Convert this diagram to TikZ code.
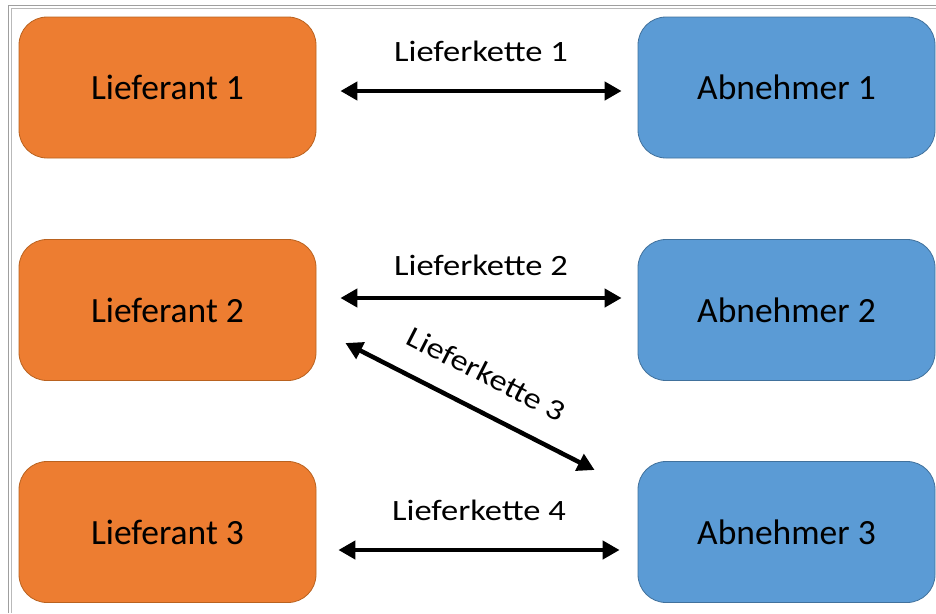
\documentclass[tikz,border=0pt]{standalone}
\usepackage{fontspec}
\setmainfont{Carlito}
\newfontfamily\kettefont[FakeStretch=1.17]{Carlito}
\usetikzlibrary{arrows.meta}

\definecolor{lieforange}{HTML}{ED7D31}
\definecolor{lieforangeline}{HTML}{B9621F}
\definecolor{abnblue}{HTML}{5B9BD5}
\definecolor{abnblueline}{HTML}{41719C}

\tikzset{
	partner/.style={rectangle, rounded corners=28pt, minimum width=297pt, minimum height=141pt,
		line width=0.8pt, inner sep=0pt, font=\fontsize{35.5}{42}\selectfont},
	lieferant/.style={partner, fill=lieforange, draw=lieforangeline},
	abnehmer/.style={partner, fill=abnblue, draw=abnblueline},
	chain/.style={line width=4.5pt, {Triangle[length=17pt,width=18pt]}-{Triangle[length=17pt,width=18pt]}},
	chainlabel/.style={inner sep=0pt, font=\kettefont\fontsize{29.5}{35}\selectfont}
}

\begin{document}
\begin{tikzpicture}[x=1pt,y=-1pt]

	\useasboundingbox (0,0) rectangle (936,613);

	\coordinate (L1) at (167.5, 87.5);
	\coordinate (L2) at (167.5, 310);
	\coordinate (L3) at (167.5, 532);
	\coordinate (A1) at (786.5, 87.5);
	\coordinate (A2) at (786.5, 310);
	\coordinate (A3) at (786.5, 532);

	% frame
	\draw[gray!75, line width=1pt] (8,613) -- (8,5) -- (936,5);
	\draw[gray!55, line width=1pt] (11.5,613) -- (11.5,8.5) -- (936,8.5);

	\node[lieferant] (l1) at (L1) {Lieferant 1};
	\node[lieferant] (l2) at (L2) {Lieferant 2};
	\node[lieferant] (l3) at (L3) {Lieferant 3};

	\node[abnehmer] (a1) at (A1) {Abnehmer 1};
	\node[abnehmer] (a2) at (A2) {Abnehmer 2};
	\node[abnehmer] (a3) at (A3) {Abnehmer 3};

	\draw[chain] ([xshift=24pt,yshift=-3.5pt]l1.east) -- ([xshift=-16pt,yshift=-3.5pt]a1.west)
		node[chainlabel, midway, above=27pt] {Lieferkette 1};
	\draw[chain] ([xshift=24pt,yshift=12pt]l2.east) -- ([xshift=-16pt,yshift=12pt]a2.west)
		node[chainlabel, midway, above=20pt] {Lieferkette 2};
	\draw[chain] ([xshift=29pt,yshift=-33pt]l2.east) -- ([xshift=-43pt,yshift=62pt]a3.west)
		node[chainlabel, midway, sloped, above=24pt] {Lieferkette 3};
	\draw[chain] ([xshift=22pt,yshift=-18pt]l3.east) -- ([xshift=-18pt,yshift=-18pt]a3.west)
		node[chainlabel, midway, above=27pt] {Lieferkette 4};

\end{tikzpicture}
\end{document}
